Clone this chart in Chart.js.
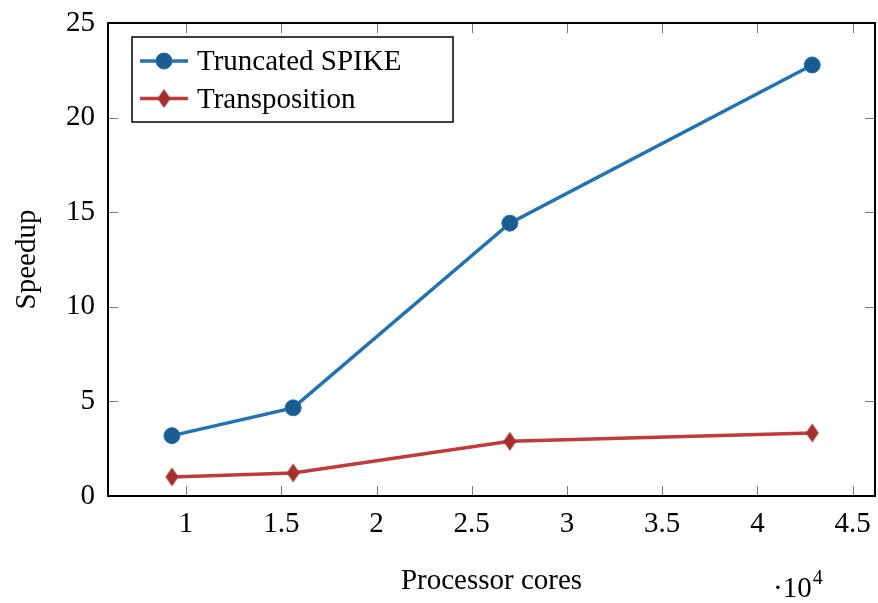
<!DOCTYPE html>
<html>
<head>
<meta charset="utf-8">
<title>Speedup</title>
<script src="https://cdn.jsdelivr.net/npm/chart.js@4/dist/chart.umd.min.js"></script>
<style>
  html, body { margin: 0; padding: 0; background: #fff; }
  #wrap { width: 878px; height: 603px; }
</style>
</head>
<body>
<div id="wrap"><canvas id="speedupChart" width="878" height="603"></canvas></div>
<script>
  // Core counts and measured speedups
  const cores = [9261, 15625, 27000, 42875];
  const spikeSpeedup = [3.19, 4.66, 14.42, 22.78];
  const transposeSpeedup = [1.01, 1.22, 2.89, 3.33];
  const xTicks = [10000, 15000, 20000, 25000, 30000, 35000, 40000, 45000];
  const yTicks = [0, 5, 10, 15, 20, 25];

  const FONT = '"Liberation Serif", "Times New Roman", serif';
  const BLUE = '#2173b3';
  const BLUE_MARK = '#1c5b91';
  const RED = '#c23b3b';
  const RED_MARK = '#a52f2f';

  // tall diamond marker
  function makeDiamond(w, h, fill) {
    const c = document.createElement('canvas');
    c.width = w + 2; c.height = h + 2;
    const g = c.getContext('2d');
    g.fillStyle = fill;
    g.beginPath();
    g.moveTo(c.width / 2, 1);
    g.lineTo(c.width - 1, c.height / 2);
    g.lineTo(c.width / 2, c.height - 1);
    g.lineTo(1, c.height / 2);
    g.closePath();
    g.fill();
    return c;
  }
  const diamond = makeDiamond(13, 19, RED_MARK);

  // frame with inward ticks on all four sides
  const framePlugin = {
    id: 'frame',
    afterDatasetsDraw(chart) {
      const { ctx, chartArea: a, scales } = chart;
      ctx.save();
      ctx.strokeStyle = '#7a7a7a';
      ctx.lineWidth = 1;
      const len = 10;
      ctx.beginPath();
      xTicks.forEach(v => {
        const x = Math.round(scales.x.getPixelForValue(v)) + 0.5;
        ctx.moveTo(x, a.bottom); ctx.lineTo(x, a.bottom - len);
        ctx.moveTo(x, a.top); ctx.lineTo(x, a.top + len);
      });
      yTicks.slice(1, -1).forEach(v => {
        const y = Math.round(scales.y.getPixelForValue(v)) + 0.5;
        ctx.moveTo(a.left, y); ctx.lineTo(a.left + len, y);
        ctx.moveTo(a.right, y); ctx.lineTo(a.right - len, y);
      });
      ctx.stroke();
      ctx.strokeStyle = '#000';
      ctx.lineWidth = 2;
      ctx.strokeRect(a.left, a.top, a.right - a.left, a.bottom - a.top);

      // x axis multiplier
      ctx.fillStyle = '#000';
      ctx.textBaseline = 'alphabetic';
      ctx.font = '29px ' + FONT;
      ctx.fillText('\u00b710', 773, 597);
      const w = ctx.measureText('\u00b710').width;
      ctx.font = '20px ' + FONT;
      ctx.fillText('4', 773 + w + 1, 584);
      ctx.restore();
    }
  };

  // boxed legend in the upper left corner
  const legendPlugin = {
    id: 'boxLegend',
    afterDraw(chart) {
      const ctx = chart.ctx;
      const box = { x: 132, y: 37, w: 321, h: 85 };
      ctx.save();
      ctx.fillStyle = '#fff';
      ctx.fillRect(box.x, box.y, box.w, box.h);
      ctx.strokeStyle = '#000';
      ctx.lineWidth = 1.5;
      ctx.strokeRect(box.x, box.y, box.w, box.h);

      const rows = chart.data.datasets.map((ds, i) => ({ ds, y: i === 0 ? 61 : 98.5 }));
      rows.forEach(({ ds, y }) => {
        ctx.strokeStyle = ds.borderColor;
        ctx.lineWidth = 3.5;
        ctx.beginPath();
        ctx.moveTo(140, y); ctx.lineTo(188, y);
        ctx.stroke();
        if (ds.pointStyle === 'circle') {
          ctx.fillStyle = ds.pointBackgroundColor;
          ctx.strokeStyle = ds.pointBorderColor;
          ctx.lineWidth = 1;
          ctx.beginPath();
          ctx.arc(164, y, ds.pointRadius, 0, Math.PI * 2);
          ctx.fill(); ctx.stroke();
        } else {
          ctx.drawImage(ds.pointStyle, 164 - ds.pointStyle.width / 2, y - ds.pointStyle.height / 2);
        }
        ctx.fillStyle = '#000';
        ctx.font = '29px ' + FONT;
        ctx.textBaseline = 'alphabetic';
        ctx.fillText(ds.label, 197, y + 9);
      });
      ctx.restore();
    }
  };

  const ctx = document.getElementById('speedupChart').getContext('2d');
  new Chart(ctx, {
    type: 'line',
    data: {
      datasets: [{
        label: 'Truncated SPIKE',
        data: cores.map((c, i) => ({ x: c, y: spikeSpeedup[i] })),
        borderColor: BLUE,
        borderWidth: 3.5,
        pointStyle: 'circle',
        pointRadius: 8,
        pointBackgroundColor: BLUE_MARK,
        pointBorderColor: BLUE,
        pointBorderWidth: 1,
        tension: 0
      }, {
        label: 'Transposition',
        data: cores.map((c, i) => ({ x: c, y: transposeSpeedup[i] })),
        borderColor: RED,
        borderWidth: 3.5,
        pointStyle: diamond,
        pointRadius: 9,
        tension: 0
      }]
    },
    options: {
      responsive: false,
      animation: false,
      layout: { autoPadding: false, padding: { top: 23, right: 3, left: 0, bottom: 0 } },
      plugins: { legend: { display: false }, tooltip: { enabled: false } },
      scales: {
        x: {
          type: 'linear',
          min: 5904,
          max: 46170,
          afterBuildTicks(scale) { scale.ticks = xTicks.map(v => ({ value: v })); },
          afterFit(scale) {
            scale.height = 107;
            scale.paddingLeft = 0;
            scale.paddingRight = 0;
          },
          grid: { display: false, drawTicks: false },
          border: { display: false },
          ticks: {
            color: '#000',
            font: { family: FONT, size: 29 },
            padding: 11,
            maxRotation: 0,
            callback: v => String(v / 10000)
          },
          title: {
            display: true,
            text: 'Processor cores',
            color: '#000',
            font: { family: FONT, size: 29 },
            padding: { top: 0, bottom: 4 }
          }
        },
        y: {
          min: 0,
          max: 25,
          afterBuildTicks(scale) { scale.ticks = yTicks.map(v => ({ value: v })); },
          afterFit(scale) {
            scale.width = 108;
            scale.paddingTop = 0;
            scale.paddingBottom = 0;
          },
          grid: { display: false, drawTicks: false },
          border: { display: false },
          ticks: {
            color: '#000',
            font: { family: FONT, size: 29 },
            padding: 13
          },
          title: {
            display: true,
            text: 'Speedup',
            color: '#000',
            font: { family: FONT, size: 29 },
            padding: { top: 10, bottom: 0 }
          }
        }
      }
    },
    plugins: [framePlugin, legendPlugin]
  });
</script>
</body>
</html>
